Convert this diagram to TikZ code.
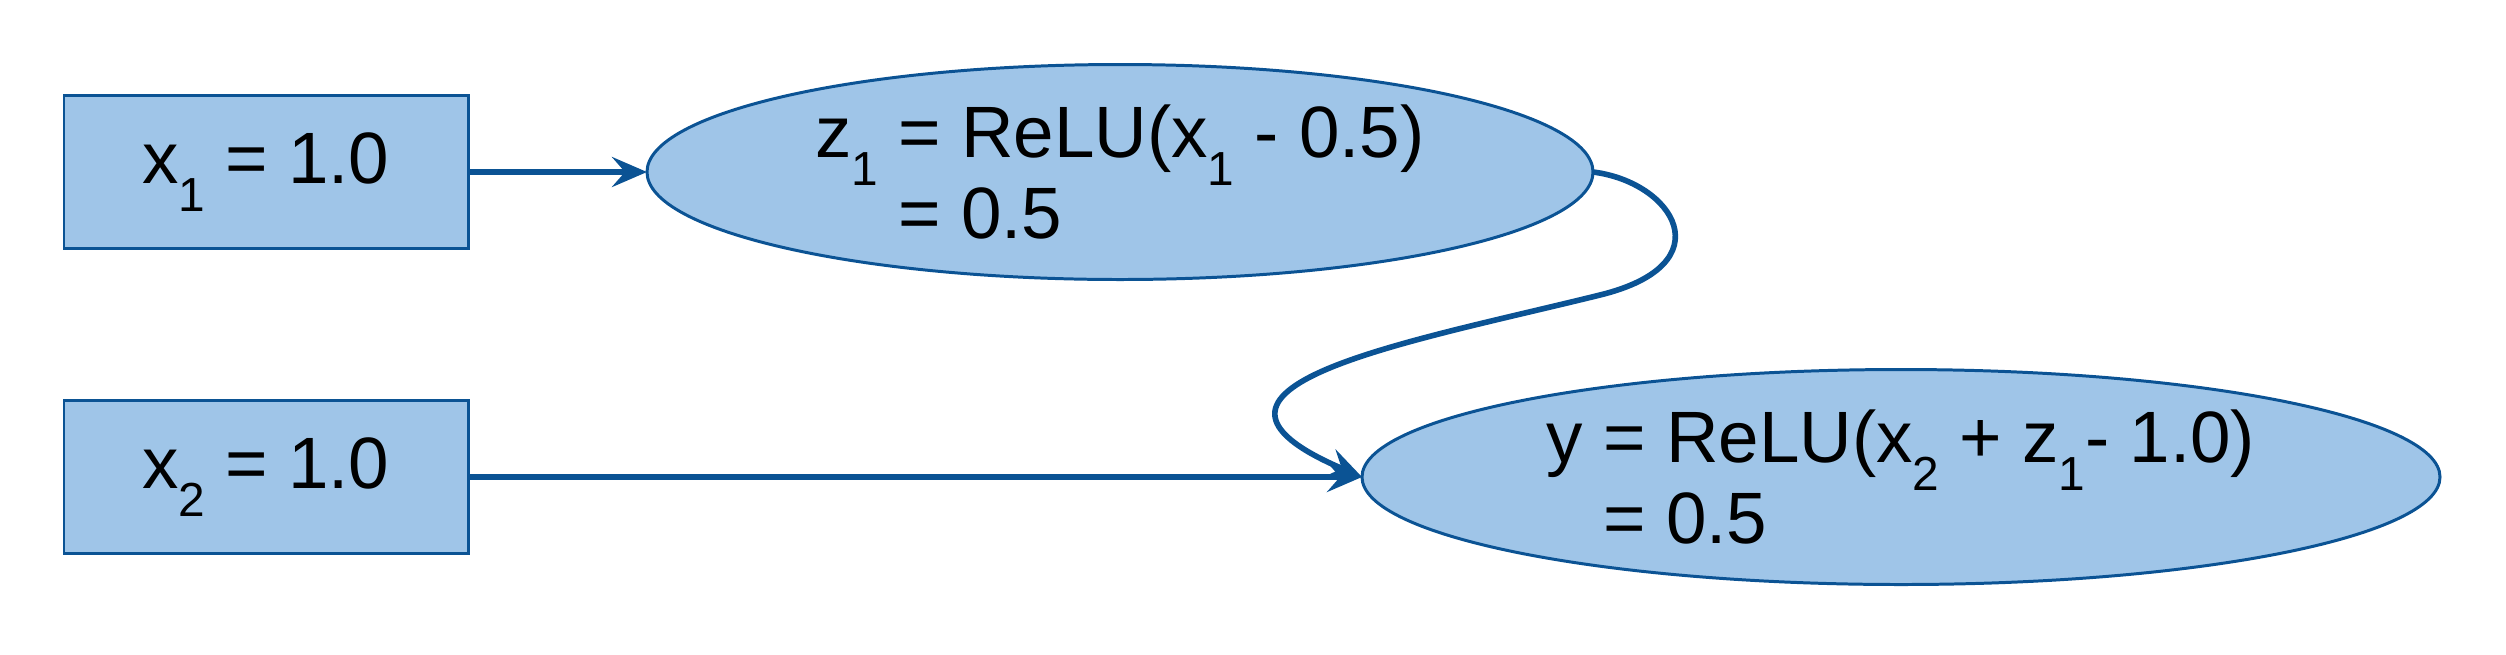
\documentclass[tikz,border=0pt]{standalone}
\usepackage{fontspec}
\setmainfont{Liberation Sans}
\usepackage{tikz}
\usetikzlibrary{shapes.geometric, arrows.meta, positioning}
\definecolor{cFill}{RGB}{159,197,232}
\definecolor{cEdge}{RGB}{11,83,148}
\newcommand{\ix}[1]{\raisebox{-0.28cm}{\fontsize{13.6}{13.6}\selectfont #1}}
\tikzset{
  basebox/.style={draw=cEdge, fill=cFill, line width=0.85pt, inner sep=0pt,
                  outer sep=0pt, font=\fontsize{20.7}{23}\selectfont},
  inputnode/.style={basebox, rectangle, minimum width=4.04cm,
                    minimum height=1.53cm},
  relunode/.style={basebox, ellipse, align=left, minimum height=2.15cm},
  arrow/.style={-{Stealth[length=3.5mm, width=3.0mm, inset=1.3mm]},
                line width=1.6pt, color=cEdge}
}

\begin{document}
\begin{tikzpicture}
  \useasboundingbox (0,0) rectangle (25.06,6.54);

  % Inputs
  \node[inputnode] (x1) at (2.66,4.82) {x\ix{1} = 1.0};
  \node[inputnode, below=1.52cm of x1] (x2) {x\ix{2} = 1.0};

  % ReLU units
  \node[relunode, minimum width=9.46cm, right=1.79cm of x1] (z1)
      {z\ix{1} = ReLU(x\ix{1} - 0.5)\\\hphantom{z\ix{1} }= 0.5};
  \node[relunode, minimum width=10.78cm, right=8.94cm of x2] (y)
      {y = ReLU(x\ix{2} + z\ix{1}- 1.0)\\\hphantom{y }= 0.5};

  \draw[arrow] (x1) -- (z1);
  \draw[arrow] (x2) -- (y);
  \draw[arrow] (z1.east) .. controls +(0.8,-0.10) and +(1.26,0.31) .. ++(0.07,-1.23)
                         .. controls +(-1.94,-0.48) and +(-2.12,0.90) .. (y.west);

\end{tikzpicture}
\end{document}
